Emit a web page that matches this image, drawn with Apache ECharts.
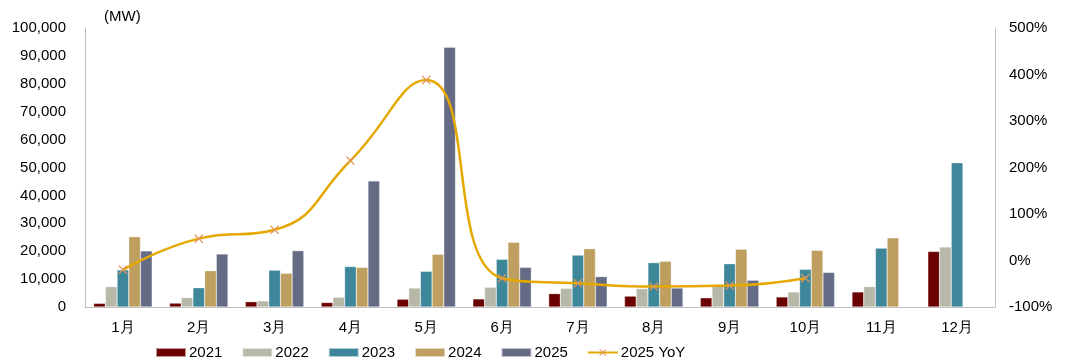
<!DOCTYPE html>
<html><head><meta charset="utf-8">
<script src="https://cdn.jsdelivr.net/npm/echarts@6/dist/echarts.min.js"></script>
<style>html,body{margin:0;padding:0;background:#fff}#c{width:1080px;height:363px}</style>
</head><body><div id="c"></div>
<script>
const categories = ['1月','2月','3月','4月','5月','6月','7月','8月','9月','10月','11月','12月'];
const s2021 = [1300,1400,1900,1600,2800,2900,4800,3900,3300,3600,5400,19900];
const s2022 = [7300,3400,2200,3500,6800,7100,6700,6600,7600,5400,7300,21500];
const s2023 = [13300,6900,13200,14500,12800,17100,18600,15900,15500,13500,21100,51700];
const s2024 = [25200,13000,12100,14200,18900,23200,20900,16400,20700,20300,24800,null];
const s2025 = [20100,19000,20200,45200,93100,14200,10900,6800,9600,12400,null,null];
const yoy2025 = [-20,47,66,215,388,-38,-49,-56,-54,-38,null,null];
const leftTicks = [0,100000,10000];
const rightTicks = [-100,500,100];

const font = 'Liberation Sans, Arial, sans-serif';
const colors = ['#6B0000','#B8B8A8','#3E879A','#BF9F5F','#656B84'];
const names = ['2021','2022','2023','2024','2025'];
const data = [s2021,s2022,s2023,s2024,s2025];
const crossPath = 'path://M0,1L1,0L5,4L9,0L10,1L6,5L10,9L9,10L5,6L1,10L0,9L4,5Z';

const series = data.map((d,i)=>({
  name: names[i], type:'bar', data:d, barWidth:11.7, barGap:'0%',
  itemStyle:{color:colors[i], borderColor:'rgba(255,255,255,0.6)', borderWidth:0.5}
}));
series.push({
  name:'2025 YoY', type:'line', yAxisIndex:1, data:yoy2025, smooth:0.5,
  symbol:crossPath, symbolSize:9, showSymbol:true,
  lineStyle:{color:'#E5A800', width:2.5},
  itemStyle:{color:'#E0955A'}
});

const chart = echarts.init(document.getElementById('c'));
chart.setOption({
  animation:false,
  textStyle:{fontFamily:font},
  grid:{left:85, right:85, top:28, bottom:56},
  legend:{
    top:345, left:155, padding:0, itemWidth:30, itemHeight:9, itemGap:19,
    textStyle:{fontSize:15, color:'#000', fontFamily:font, padding:[0,0,0,-2]},
    data:[...names.map(n=>({name:n, icon:'rect'})), {name:'2025 YoY'}]
  },
  graphic:[{type:'text', left:104, top:9, style:{text:'(MW)', fontSize:15, fill:'#000', fontFamily:font}}],
  xAxis:{
    type:'category', data:categories,
    axisLine:{lineStyle:{color:'#BFBFBF'}}, axisTick:{show:false},
    axisLabel:{fontSize:15, color:'#000', margin:13}
  },
  yAxis:[{
    type:'value', min:leftTicks[0], max:leftTicks[1], interval:leftTicks[2],
    splitLine:{show:false}, axisLine:{show:true, lineStyle:{color:'#BFBFBF'}}, axisTick:{show:false},
    axisLabel:{fontSize:15, color:'#000', margin:19, formatter:v=>v.toLocaleString('en-US')}
  },{
    type:'value', min:rightTicks[0], max:rightTicks[1], interval:rightTicks[2],
    splitLine:{show:false}, axisLine:{show:true, lineStyle:{color:'#BFBFBF'}}, axisTick:{show:false},
    axisLabel:{fontSize:15, color:'#000', margin:14, formatter:v=>v+'%'}
  }],
  series
});
</script></body></html>
